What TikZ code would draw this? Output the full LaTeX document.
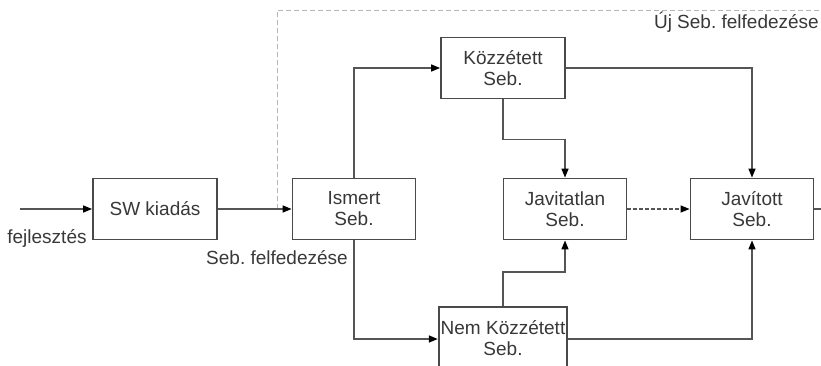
\documentclass[tikz,border=0pt]{standalone}
\usepackage{fontspec}
\setmainfont{Liberation Sans}
\usepackage{xcolor}
\usepackage{tikz}
\usetikzlibrary{arrows.meta,positioning}
\definecolor{linegray}{HTML}{555555}
\definecolor{boxgray}{HTML}{4A4A4A}
\definecolor{textgray}{HTML}{383838}
\definecolor{softline}{HTML}{B4B4B4}
\frenchspacing
\tikzset{
  state/.style={draw=boxgray, line width=1.8pt, align=center, fill=white, inner sep=2pt, minimum width=123pt, minimum height=61pt, text=textgray},
  label/.style={text=textgray, inner sep=1pt},
  arrow/.style={-{Triangle[length=9pt,width=7pt]}, line width=1.5pt, draw=linegray, arrows={[color=black]}},
  dashedarrow/.style={-{Triangle[length=9pt,width=7pt]}, line width=1.3pt, dash pattern=on 4pt off 2pt, draw=linegray, arrows={[color=black]}},
  feedback/.style={line width=1pt, dash pattern=on 5pt off 3pt, draw=softline},
  plainline/.style={line width=1.5pt, draw=linegray}
}

\begin{document}
\begin{tikzpicture}[x=1pt, y=-1pt, font=\fontsize{19}{21}\selectfont]
  \useasboundingbox (0,0) rectangle (821,365);

  \node[state, minimum width=124pt] (swRelease) at (155,209) {SW kiadás};
  \node[state] (knownBug) at (354,209) {Ismert\\Seb.};
  \node[state, minimum width=124pt] (publicBug) at (503,68) {Közzétett\\Seb.};
  \node[state] (openBug) at (565,209) {Javitatlan\\Seb.};
  \node[state] (fixedBug) at (752,209) {Javított\\Seb.};
  \node[state, minimum height=62pt] (hiddenBug) at (503,338) {Nem Közzétett\\Seb.};

  \coordinate (devIn) at (20,209);
  \coordinate (tap) at (277,209);
  \coordinate (loopEnd) at (821,10);
  \coordinate (fixedOut) at (821,209);

  \node[label] (devLabel) at (47,238) {fejlesztés};
  \node[label] (findLabel) at (277,258) {Seb. felfedezése};
  \node[label, anchor=east] (newFindLabel) at (820,22) {Új Seb. felfedezése};

  \draw[feedback] (tap) |- (loopEnd);
  \draw[arrow] (devIn) -- (swRelease);
  \draw[arrow] (swRelease) -- (knownBug);
  \draw[arrow] (knownBug.north) |- (publicBug.west);
  \draw[arrow] (knownBug.south) |- ([yshift=-1pt]hiddenBug.west);
  \draw[arrow] (publicBug.south) -- ++(0,40) -| (openBug.north);
  \draw[arrow] (publicBug.east) -| (fixedBug.north);
  \draw[arrow] (hiddenBug.north) -- ++(0,-34) -| (openBug.south);
  \draw[arrow] ([yshift=-1pt]hiddenBug.east) -| (fixedBug.south);
  \draw[dashedarrow] (openBug) -- (fixedBug);
  \draw[plainline] (fixedBug) -- (fixedOut);
\end{tikzpicture}
\end{document}
